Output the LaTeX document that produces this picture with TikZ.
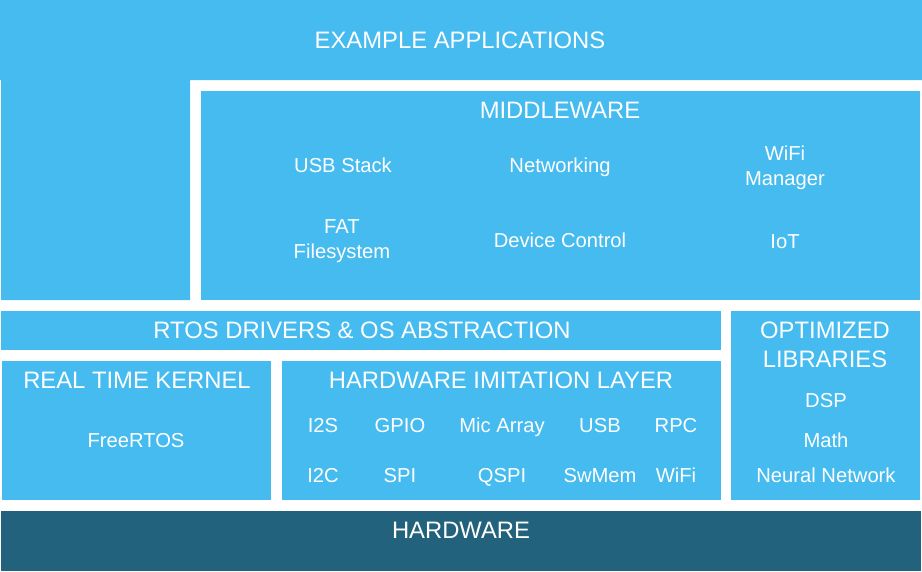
\documentclass[tikz,border=0pt]{standalone}
\usepackage{fontspec}
\setmainfont{Liberation Sans}
\usepackage{tikz}
\usetikzlibrary{positioning}

\definecolor{layerblue}{HTML}{45BBF0}
\definecolor{hwblue}{HTML}{23627C}

\tikzset{
  title/.style={text=white, font=\fontsize{23.8}{29}\selectfont, align=center, inner sep=0pt},
  item/.style={text=white, font=\fontsize{20.2}{25}\selectfont, inner sep=0pt, text height=0.716em, text depth=0pt, yshift=-4pt},
  itemtwo/.style={text=white, font=\fontsize{20.2}{25}\selectfont, align=center, inner sep=0pt}
}

\begin{document}
\begin{tikzpicture}[x=1pt, y=-1pt]
        \useasboundingbox (0,0) rectangle (922,571);
        % layer boxes
        \fill[layerblue] (0,0) -- (922,0) -- (922,80) -- (190,80) -- (190,300) -- (1,300) -- (1,80) -- (0,80) -- cycle;
        \fill[layerblue] (201,91) rectangle (920,300);
        \fill[layerblue] (1,311) rectangle (721,350);
        \fill[layerblue] (731,311) rectangle (920,500);
        \fill[layerblue] (2,361) rectangle (271,500);
        \fill[layerblue] (282,361) rectangle (721,500);
        \fill[hwblue] (1,511) rectangle (921,571);
        % layer titles
        \node[title] (apps) at (460,40) {EXAMPLE APPLICATIONS};
        \node[title] (mw) at (560,110) {MIDDLEWARE};
        \node[title] (rtos) at (362,330) {RTOS DRIVERS \& OS ABSTRACTION};
        \node[title] (libs) at (825,345) {OPTIMIZED\\LIBRARIES};
        \node[title] (kernel) at (137,380) {REAL TIME KERNEL};
        \node[title] (hil) at (501,380) {HARDWARE IMITATION LAYER};
        \node[title] (hw) at (461,530) {HARDWARE};
        % middleware contents
        \node[item] (usbstack) at (343,165) {USB Stack};
        \node[item] (net) at (560,165) {Networking};
        \node[itemtwo] (wifimgr) at (785,168) {WiFi\\Manager};
        \node[itemtwo] (fat) at (342,241.5) {FAT\\Filesystem};
        \node[item] (devctl) at (560,240) {Device Control};
        \node[item] (iot) at (785,241) {IoT};
        % kernel and libraries
        \node[item] (freertos) at (136,440) {FreeRTOS};
        \node[item] (dsp) at (826,400) {DSP};
        \node[item] (math) at (826,440) {Math};
        \node[item] (nn) at (826,475) {Neural Network};
        % hardware imitation layer contents
        \foreach \name/\x/\top/\bot in {a/323/I2S/I2C, b/400/GPIO/SPI, c/502/Mic Array/QSPI, d/600/USB/SwMem, e/676/RPC/WiFi} {
            \node[item] (hil\name1) at (\x,425) {\top};
            \node[item] (hil\name2) at (\x,475) {\bot};
        }
    \end{tikzpicture}
\end{document}
